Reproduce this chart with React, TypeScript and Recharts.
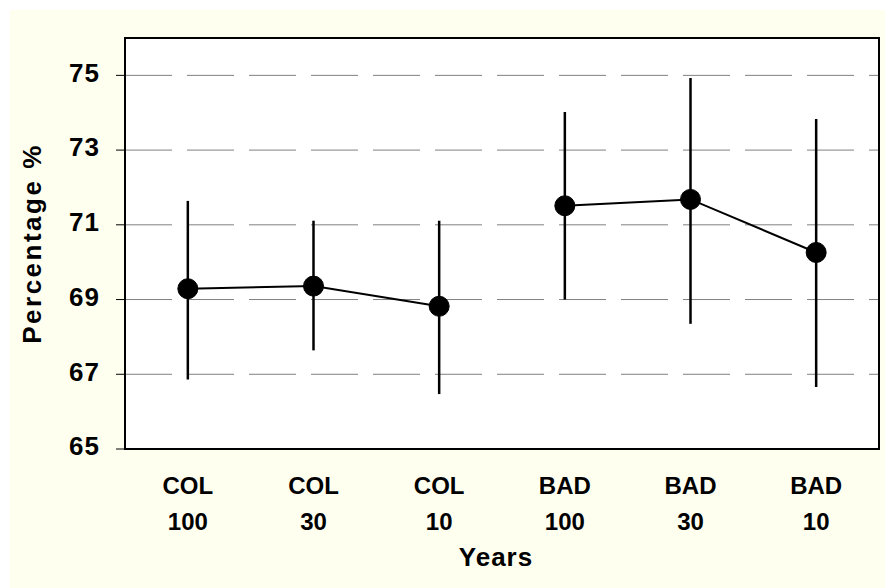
import React from 'react';
import { LineChart, Line, XAxis, YAxis, CartesianGrid, ErrorBar, ReferenceArea } from 'recharts';

const categoryTop = ['COL', 'COL', 'COL', 'BAD', 'BAD', 'BAD'];
const categoryBottom = ['100', '30', '10', '100', '30', '10'];

const colMean = [69.29, 69.36, 68.82];
const colLow = [66.86, 67.64, 66.47];
const colHigh = [71.64, 71.11, 71.11];

const badMean = [71.51, 71.68, 70.26];
const badLow = [69.0, 68.35, 66.66];
const badHigh = [74.02, 74.93, 73.83];

const yTicks = [65, 67, 69, 71, 73, 75];

const font = "'Liberation Sans', Arial, sans-serif";

// one row per category, x placed at the middle of each band
const data = categoryTop.map((_, i) => {
  const c = i < 3 ? i : -1;
  const b = i >= 3 ? i - 3 : -1;
  return {
    x: i + 0.5,
    col: c >= 0 ? colMean[c] : null,
    colErr: c >= 0 ? [colMean[c] - colLow[c], colHigh[c] - colMean[c]] : null,
    bad: b >= 0 ? badMean[b] : null,
    badErr: b >= 0 ? [badMean[b] - badLow[b], badHigh[b] - badMean[b]] : null,
  };
});

const boundaryTicks = categoryTop.map((_, i) => i).concat([categoryTop.length]);
const labelTicks = categoryTop.map((_, i) => i + 0.5);

const XTick = (props: any) => {
  const { x, y, payload } = props;
  const i = Math.floor(payload.value);
  return (
    <text x={x} y={y} textAnchor="middle" fill="#000" fontSize={24} fontWeight="bold" fontFamily={font}>
      <tspan x={x} dy={36.5}>{categoryTop[i]}</tspan>
      <tspan x={x} dy={36}>{categoryBottom[i]}</tspan>
    </text>
  );
};

const YLabel = (props: any) => {
  const { viewBox } = props;
  const cx = 22;
  const cy = viewBox.y + viewBox.height / 2;
  return (
    <text
      x={cx}
      y={cy}
      transform={`rotate(-90, ${cx}, ${cy})`}
      textAnchor="middle"
      dominantBaseline="central"
      fill="#000"
      fontSize={26}
      fontWeight="bold"
      fontFamily={font}
      letterSpacing={2.5}
    >
      Percentage %
    </text>
  );
};

export default function App() {
  return (
    <div style={{ position: 'absolute', left: 10, top: 10, width: 875, height: 578, background: '#FFFFF0' }}>
      <LineChart width={875} height={578} data={data} margin={{ top: 28, right: 6, left: 0, bottom: 0 }}>
        <CartesianGrid xAxisId="b" vertical={false} stroke="#808080" strokeDasharray="47 15" fill="#fff" />
        <XAxis
          xAxisId="b"
          dataKey="x"
          type="number"
          domain={[0, 6]}
          ticks={boundaryTicks}
          tick={false}
          tickSize={7}
          height={8}
          axisLine={{ stroke: '#000', strokeWidth: 2 }}
          tickLine={{ stroke: '#000' }}
        />
        <XAxis
          xAxisId="lab"
          dataKey="x"
          type="number"
          domain={[0, 6]}
          ticks={labelTicks}
          tick={<XTick />}
          tickSize={0}
          tickMargin={0}
          height={131}
          axisLine={false}
          tickLine={false}
          label={{ value: 'Years', position: 'insideBottom', offset: 22, fill: '#000', fontSize: 26, fontWeight: 'bold', fontFamily: font, letterSpacing: 1, dx: -6 }}
        />
        <YAxis
          type="number"
          domain={[65, 76]}
          ticks={yTicks}
          width={115}
          tickSize={9}
          tickMargin={16}
          axisLine={{ stroke: '#000', strokeWidth: 2 }}
          tickLine={{ stroke: '#000' }}
          tick={{ fill: '#000', fontSize: 26, fontWeight: 'bold', fontFamily: font, letterSpacing: 1, dy: -3 }}
          label={{ content: <YLabel /> }}
        />
        <ReferenceArea xAxisId="b" x1={0} x2={6} y1={65} y2={76} fill="none" stroke="#000" strokeWidth={2} />
        <Line
          xAxisId="b"
          dataKey="col"
          stroke="#000"
          strokeWidth={2}
          dot={{ r: 10, fill: '#000', stroke: '#000', strokeWidth: 1 }}
          activeDot={false}
          connectNulls={false}
          isAnimationActive={false}
        >
          <ErrorBar dataKey="colErr" width={0} stroke="#000" strokeWidth={2.5} direction="y" />
        </Line>
        <Line
          xAxisId="b"
          dataKey="bad"
          stroke="#000"
          strokeWidth={2}
          dot={{ r: 10, fill: '#000', stroke: '#000', strokeWidth: 1 }}
          activeDot={false}
          connectNulls={false}
          isAnimationActive={false}
        >
          <ErrorBar dataKey="badErr" width={0} stroke="#000" strokeWidth={2.5} direction="y" />
        </Line>
      </LineChart>
    </div>
  );
}
